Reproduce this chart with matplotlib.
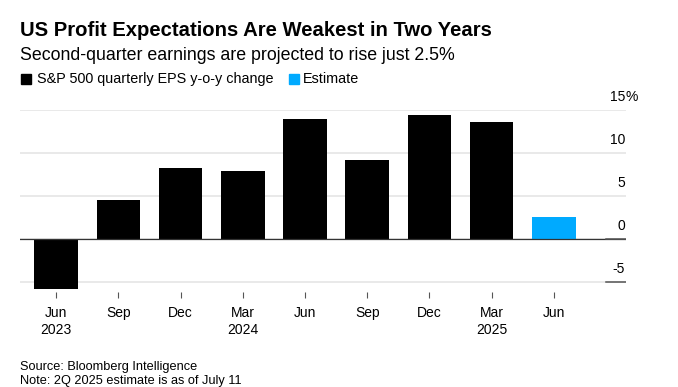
import matplotlib
matplotlib.use("Agg")
import matplotlib.pyplot as plt
import matplotlib.transforms as mtransforms

plt.rcParams["font.family"] = ["Liberation Sans", "DejaVu Sans"]

# S&P 500 quarterly EPS y-o-y change, %
quarters = ["Jun\n2023", "Sep", "Dec", "Mar\n2024", "Jun", "Sep", "Dec", "Mar\n2025", "Jun"]
eps_change = [-5.8, 4.5, 8.2, 7.95, 14.0, 9.15, 14.4, 13.6, 2.5]
is_estimate = [False] * 8 + [True]
y_ticks = [-5, 0, 5, 10, 15]

BLACK = "#000000"
BLUE = "#00aaff"
GRID = "#e3e3e3"

fig = plt.figure(figsize=(6.78, 3.87), dpi=100)
ax = fig.add_axes([0.0288, 0.2455, 0.8945, 0.4703])

x = list(range(len(quarters)))
colors = [BLUE if e else BLACK for e in is_estimate]
ax.bar(x, eps_change, width=0.7, color=colors, zorder=3)

ax.set_xlim(-0.59, 9.16)
ax.set_ylim(-6.2, 15)

for v in y_ticks:
    ax.axhline(v, color=GRID, lw=1.1, zorder=1)
ax.axhline(0, color="#333333", lw=0.9, zorder=4)
# short dark marks at the right end, Bloomberg style
for v in [0, -5]:
    ax.plot([0.967, 1.0], [v, v], color="#555555", lw=1.1,
            transform=ax.get_yaxis_transform(), zorder=4)

# y labels sit above the gridlines at the right edge
lab_tf = mtransforms.offset_copy(ax.get_yaxis_transform(), fig=fig, x=-1, y=6, units="dots")
pct_tf = mtransforms.offset_copy(ax.get_yaxis_transform(), fig=fig, x=0, y=6, units="dots")
for v in y_ticks:
    ax.text(1.0, v, str(v), transform=lab_tf, ha="right", va="bottom", fontsize=10)
ax.text(1.0, y_ticks[-1], "%", transform=pct_tf, ha="left", va="bottom", fontsize=10)

ax.set_xticks(x)
ax.set_xticklabels(quarters, fontsize=10, linespacing=1.32)
ax.tick_params(axis="x", length=4, width=0.8, color="#555555", pad=6)
ax.tick_params(axis="y", left=False, right=False, labelleft=False)
for s in ax.spines.values():
    s.set_visible(False)

fig.text(0.0288, 0.907, "US Profit Expectations Are Weakest in Two Years",
         fontsize=14.6, fontweight="bold", va="baseline")
fig.text(0.0288, 0.845, "Second-quarter earnings are projected to rise just 2.5%",
         fontsize=12.8, va="baseline")

# legend
leg_y = 0.785
fig.patches.append(plt.Rectangle((0.031, leg_y - 0.001), 0.0148, 0.026, color=BLACK,
                                 transform=fig.transFigure, figure=fig))
fig.text(0.0545, leg_y, "S&P 500 quarterly EPS y-o-y change", fontsize=10.4, va="baseline")
fig.patches.append(plt.Rectangle((0.4265, leg_y - 0.001), 0.0148, 0.026, color=BLUE,
                                 transform=fig.transFigure, figure=fig))
fig.text(0.4465, leg_y, "Estimate", fontsize=10.4, va="baseline")

fig.text(0.0288, 0.045, "Source: Bloomberg Intelligence", fontsize=9.2, va="baseline")
fig.text(0.0288, 0.008, "Note: 2Q 2025 estimate is as of July 11", fontsize=9.2, va="baseline")

fig.savefig("out.png", dpi=100, facecolor="white")
